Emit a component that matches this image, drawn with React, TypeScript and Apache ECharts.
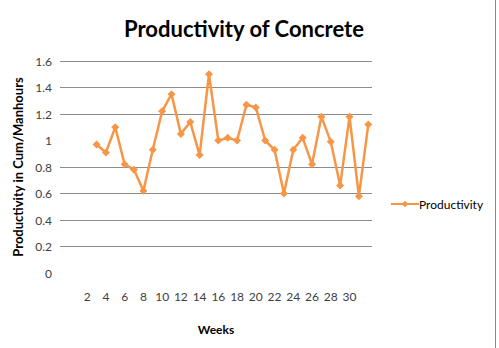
import React, { useEffect, useRef } from "react";
import * as echarts from "echarts";

// Week numbers on the horizontal axis and the measured productivity per week
const weeks = [3, 4, 5, 6, 7, 8, 9, 10, 11, 12, 13, 14, 15, 16, 17, 18, 19, 20, 21, 22, 23, 24, 25, 26, 27, 28, 29, 30, 31, 32];
const productivity = [
  0.97, 0.91, 1.1, 0.82, 0.78, 0.62, 0.93, 1.22, 1.35, 1.05, 1.14, 0.89, 1.5, 1.0, 1.02,
  1.0, 1.27, 1.25, 1.0, 0.93, 0.6, 0.93, 1.02, 0.82, 1.18, 0.99, 0.66, 1.18, 0.58, 1.12,
];
const weekTicks = [2, 4, 6, 8, 10, 12, 14, 16, 18, 20, 22, 24, 26, 28, 30];

const FONT = "Lato, 'Noto Sans', sans-serif";
const ORANGE = "#F79646";
const GRID = "#8c8c8c";
const NONE = "rgba(0,0,0,0)";

export default function App() {
  const ref = useRef<HTMLDivElement>(null);

  useEffect(() => {
    if (!ref.current) return;
    const chart = echarts.init(ref.current, null, { renderer: "svg" });
    chart.setOption({
      animation: false,
      backgroundColor: "#ffffff",
      legend: {
        orient: "vertical",
        left: 385,
        top: 193,
        itemWidth: 28,
        itemHeight: 8,
        textStyle: { fontFamily: FONT, fontSize: 12, color: "#000", padding: [0, 0, 0, -5] },
        data: ["Productivity"],
      },
      grid: { left: 60, right: 127, top: 61, bottom: 75 },
      xAxis: {
        type: "value",
        min: -0.9,
        max: 32.4,
        name: "Weeks",
        nameLocation: "middle",
        nameGap: 50,
        nameTextStyle: { fontFamily: FONT, fontWeight: "bold", fontSize: 12, color: "#000" },
        axisLine: { show: false },
        axisTick: { show: false },
        splitLine: { show: false },
        axisLabel: {
          customValues: weekTicks,
          margin: 17,
          fontFamily: FONT,
          fontSize: 12,
          color: "#404040",
        },
      },
      yAxis: {
        type: "value",
        min: 0,
        max: 1.6,
        interval: 0.2,
        name: "Productivity in Cum/Manhours",
        nameLocation: "middle",
        nameGap: 30,
        nameTextStyle: { fontFamily: FONT, fontWeight: "bold", fontSize: 13, color: "#000" },
        axisLine: { show: false },
        axisTick: { show: false },
        axisLabel: { margin: 8, fontFamily: FONT, fontSize: 12, color: "#404040" },
        splitLine: {
          show: true,
          lineStyle: {
            width: 1,
            color: [NONE, GRID, GRID, GRID, GRID, NONE, GRID, GRID, GRID],
          },
        },
      },
      series: [
        {
          name: "Productivity",
          type: "line",
          data: weeks.map((w, i) => [w, productivity[i]]),
          symbol: "diamond",
          symbolSize: 8,
          color: ORANGE,
          lineStyle: { width: 2.5, color: ORANGE },
          itemStyle: { color: ORANGE },
        },
      ],
      graphic: [
        {
          type: "text",
          x: 244,
          y: 28,
          style: {
            text: "Productivity of Concrete",
            fontFamily: FONT,
            fontWeight: "bold",
            fontSize: 22,
            fill: "#000",
            textAlign: "center",
            textVerticalAlign: "middle",
          },
        },
        {
          type: "line",
          shape: { x1: 495.5, y1: 0, x2: 495.5, y2: 348 },
          style: { stroke: "#8a8a8a", lineWidth: 1 },
        },
      ],
    });
    return () => chart.dispose();
  }, []);

  return (
    <div
      ref={ref}
      style={{ position: "absolute", left: 0, top: 0, width: 499, height: 348 }}
    />
  );
}
